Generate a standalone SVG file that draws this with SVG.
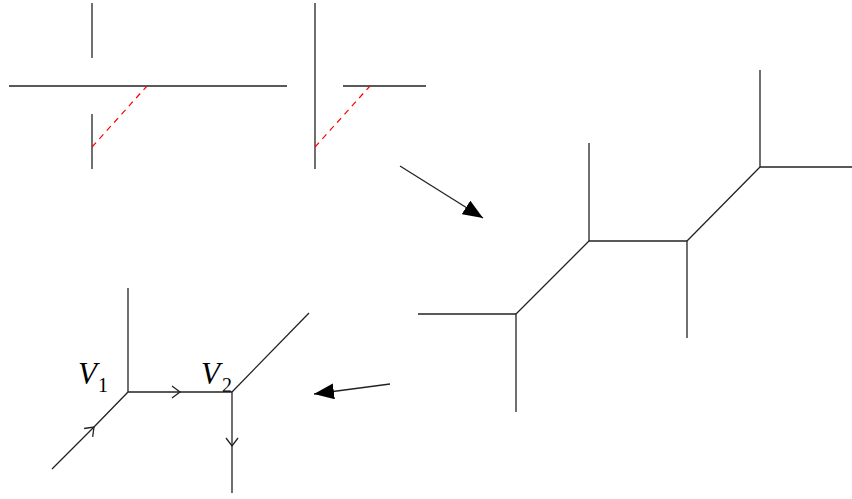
<svg xmlns="http://www.w3.org/2000/svg" width="852" height="499" viewBox="0 0 852 499">
<style>
.l{stroke:#222;stroke-width:1.3;fill:none}
.d{stroke:#f00;stroke-width:1.2;stroke-dasharray:6,5;fill:none}
.t{font-family:"Liberation Serif","DejaVu Serif",serif;font-style:italic;fill:#000}
.s{font-family:"Liberation Serif","DejaVu Serif",serif;fill:#000}
</style>
<defs>
<marker id="chev" markerUnits="userSpaceOnUse" markerWidth="20" markerHeight="20" refX="10" refY="10" orient="auto" overflow="visible">
<path d="M2,4 L10,10 L2,16" stroke="#222" stroke-width="1.3" fill="none"/>
</marker>
<marker id="tri" markerUnits="userSpaceOnUse" markerWidth="22" markerHeight="16" refX="20" refY="8" orient="auto">
<path d="M0,0 L20,8 L0,16 Z" fill="#000"/>
</marker>
</defs>
<g id="cross-left">
<line class="l" x1="92" y1="3" x2="92" y2="58"/>
<line class="l" x1="92" y1="114" x2="92" y2="169"/>
<line class="l" x1="9" y1="86" x2="287" y2="86"/>
<line class="d" x1="92" y1="147" x2="147" y2="86"/>
</g>
<g id="cross-right">
<line class="l" x1="315" y1="3" x2="315" y2="169" stroke="#555"/>
<line class="l" x1="343" y1="86" x2="426" y2="86"/>
<line class="d" x1="315" y1="147" x2="370" y2="86"/>
</g>
<g id="web">
<line class="l" x1="760" y1="70" x2="760" y2="167"/>
<line class="l" x1="760" y1="167" x2="852" y2="167"/>
<line class="l" x1="760" y1="167" x2="687" y2="241"/>
<line class="l" x1="687" y1="241" x2="687" y2="338"/>
<line class="l" x1="687" y1="241" x2="589" y2="241"/>
<line class="l" x1="589" y1="241" x2="589" y2="143"/>
<line class="l" x1="589" y1="241" x2="516" y2="314"/>
<line class="l" x1="516" y1="314" x2="418" y2="314"/>
<line class="l" x1="516" y1="314" x2="516" y2="412"/>
</g>
<g id="v1">
<line class="l" x1="128" y1="392" x2="128" y2="288"/>
<text class="t" x="78" y="384" font-size="31">V</text>
<text class="s" x="98" y="392" font-size="20">1</text>
</g>
<g id="v2">
<line class="l" x1="232" y1="392" x2="309" y2="313"/>
<text class="t" x="201" y="384" font-size="31">V</text>
<text class="s" x="222" y="392" font-size="20">2</text>
</g>
<g id="connectors">
<path class="l" d="M52,469 L94,427 L128,392" marker-mid="url(#chev)"/>
<path class="l" d="M128,392 L180,392 L232,392" marker-mid="url(#chev)"/>
<path class="l" d="M232,392 L232,446 L232,493" marker-mid="url(#chev)"/>
<line class="l" x1="400" y1="166" x2="483" y2="218" marker-end="url(#tri)"/>
<line class="l" x1="390" y1="384" x2="314" y2="394" marker-end="url(#tri)"/>
</g>
</svg>
